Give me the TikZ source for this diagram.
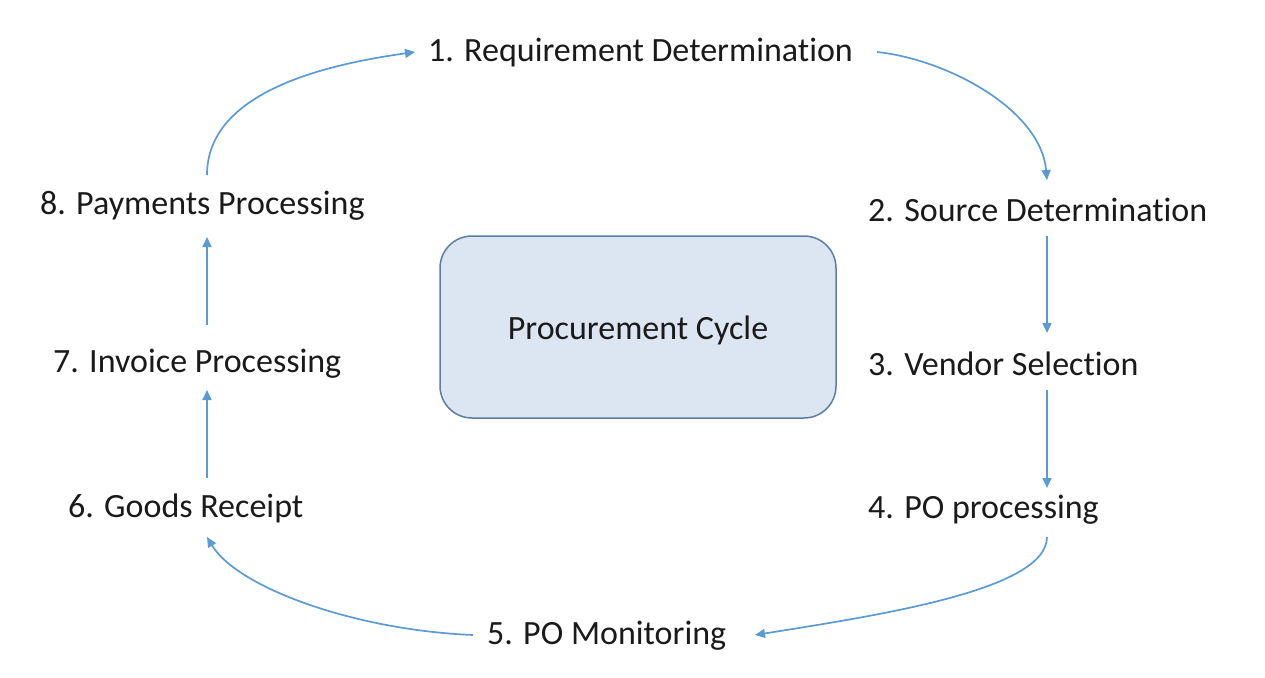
\documentclass[tikz,border=0pt]{standalone}
\usepackage{fontspec}
\setmainfont[Ligatures={NoCommon}]{Carlito}
\usetikzlibrary{arrows.meta}
\definecolor{arr}{HTML}{5B9BD5}
\definecolor{boxfill}{HTML}{DCE6F2}
\definecolor{boxline}{HTML}{5A7EA8}
\definecolor{txt}{HTML}{1A1A1A}
\begin{document}
\begin{tikzpicture}[x=1pt,y=-1pt,
  lbl/.style={anchor=west,inner sep=0pt,text=txt,font=\fontsize{34}{40}\selectfont},
  conn/.style={draw=arr,line width=1.7pt,-{Triangle[length=10pt,width=9pt]}}]
\useasboundingbox (0,0) rectangle (1265,677);
\node[lbl] (n1) at (428,53) {1. Requirement Determination};
\node[lbl] (n2) at (868,210) {2. Source Determination};
\node[lbl] (n3) at (868,364) {3. Vendor Selection};
\node[lbl] (n4) at (868,510) {4. PO processing};
\node[lbl] (n5) at (487,636) {5. PO Monitoring};
\node[lbl] (n6) at (68,508) {6. Goods Receipt};
\node[lbl] (n7) at (53,364) {7. Invoice Processing};
\node[lbl] (n8) at (40,206) {8. Payments Processing};
\node[draw=boxline,fill=boxfill,line width=1.5pt,rounded corners=32pt,
      minimum width=396pt,minimum height=182pt,text=txt,
      font=\fontsize{34}{40}\selectfont] (c) at (638,327) {\raisebox{-3pt}[\height][\depth]{Procurement Cycle}};
% connectors
\draw[conn] ([xshift=167pt,yshift=31pt]n8.west) to[out=90,in=188,looseness=0.9] ([xshift=-13pt,yshift=1pt]n1.west);
\draw[conn] ([xshift=449pt,yshift=1pt]n1.west) to[out=-6,in=95,looseness=0.85] ([xshift=179pt,yshift=30pt]n2.west);
\draw[conn] ([xshift=179pt,yshift=-26pt]n2.west) -- ([xshift=179pt,yshift=31pt]n3.west);
\draw[conn] ([xshift=179pt,yshift=-26pt]n3.west) -- ([xshift=179pt,yshift=22pt]n4.west);
\draw[conn] ([xshift=179pt,yshift=-27pt]n4.west) .. controls +(0,53) and +(125,-20) .. ([xshift=268pt,yshift=1pt]n5.west);
\draw[conn] ([xshift=-14pt,yshift=1pt]n5.west) .. controls +(-120,-5) and +(30,50) .. ([xshift=139pt,yshift=-29pt]n6.west);
\draw[conn] ([xshift=139pt,yshift=30pt]n6.west) -- ([xshift=154pt,yshift=-26pt]n7.west);
\draw[conn] ([xshift=154pt,yshift=39pt]n7.west) -- ([xshift=167pt,yshift=-31pt]n8.west);
\end{tikzpicture}
\end{document}
